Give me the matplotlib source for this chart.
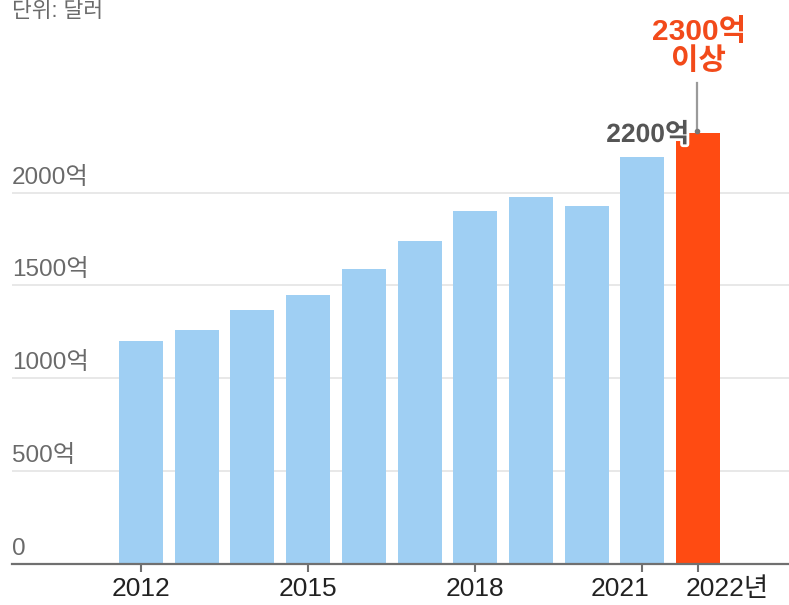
import matplotlib
matplotlib.use("Agg")
import matplotlib.pyplot as plt
import matplotlib.patheffects as pe
import matplotlib.transforms as mtransforms

plt.rcParams['font.family'] = ['Liberation Sans', 'Noto Sans CJK KR', 'DejaVu Sans']

years = ["2012", "2013", "2014", "2015", "2016", "2017", "2018", "2019", "2020", "2021", "2022"]
values = [1200, 1260, 1370, 1450, 1590, 1740, 1900, 1975, 1930, 2190, 2320]
ytick_vals = [0, 500, 1000, 1500, 2000]
ytick_labels = ["0", "500억", "1000억", "1500억", "2000억"]
xtick_idx = [0, 3, 6, 9, 10]
xtick_labels = ["2012", "2015", "2018", "2021", "2022년"]
unit_label = "단위: 달러"
label_2021 = "2200억"
label_2022 = "2300억\n이상"

W, H = 789, 605
fig = plt.figure(figsize=(W / 100, H / 100), dpi=100)
ax = fig.add_axes([12 / W, (H - 564) / H, (789 - 12) / W, 564 / H])

px_per_unit = 371.5 / 2000
ax.set_ylim(0, 564 / px_per_unit)
pitch = 55.7
c0 = 141
ax.set_xlim((12 - c0) / pitch, (789 - c0) / pitch)

x = list(range(len(years)))
colors = ["#9fcff3"] * (len(years) - 1) + ["#ff4b12"]
ax.bar(x, values, width=44 / pitch, color=colors, zorder=2)

for v, lab in zip(ytick_vals, ytick_labels):
    if v > 0:
        ax.axhline(v, color="#e4e4e4", lw=1.2, zorder=1)
    ax.text((12 - c0) / pitch, v + 4 / px_per_unit, lab, ha="left", va="bottom",
            fontsize=17.5, color="#6a6a6a", zorder=3)

for s in ["top", "right", "left"]:
    ax.spines[s].set_visible(False)
ax.spines["bottom"].set_color("#707070")
ax.spines["bottom"].set_linewidth(1.6)
ax.spines["bottom"].set_zorder(4)
ax.set_yticks([])
ax.set_xticks(xtick_idx)
ax.set_xticklabels(xtick_labels, fontsize=19, color="#222222")
ax.tick_params(axis="x", length=6, width=1.5, color="#707070", pad=3)

# shift the last two tick labels apart like the reference
ticklabels = ax.get_xticklabels()
ticklabels[3].set_transform(ticklabels[3].get_transform() +
                            mtransforms.ScaledTranslation(-22 / 100, 0, fig.dpi_scale_trans))
ticklabels[4].set_transform(ticklabels[4].get_transform() +
                            mtransforms.ScaledTranslation(29 / 100, 0, fig.dpi_scale_trans))

# annotations
ax.text((689 - c0) / pitch, (564 - 142) / px_per_unit, label_2021, ha="right", va="baseline",
        fontsize=19, color="#555555", fontweight="bold", zorder=5,
        path_effects=[pe.withStroke(linewidth=4, foreground="white")])
lx = (697 - c0) / pitch
ax.plot([lx, lx], [(564 - 83) / px_per_unit, (564 - 131) / px_per_unit], color="#9a9a9a", lw=1.6, zorder=5)
ax.plot([lx], [(564 - 131) / px_per_unit], marker="o", ms=3, color="#777777", zorder=6)
ax.text((699 - c0) / pitch, (564 - 69) / px_per_unit, label_2022, ha="center", va="baseline",
        fontsize=21.5, color="#f24a1a", fontweight="bold", linespacing=1.05, zorder=5)

fig.text(12 / W, 1 - 1 / H, unit_label, ha="left", va="top", fontsize=15.5, color="#6a6a6a")

fig.savefig("out.png", dpi=100)
